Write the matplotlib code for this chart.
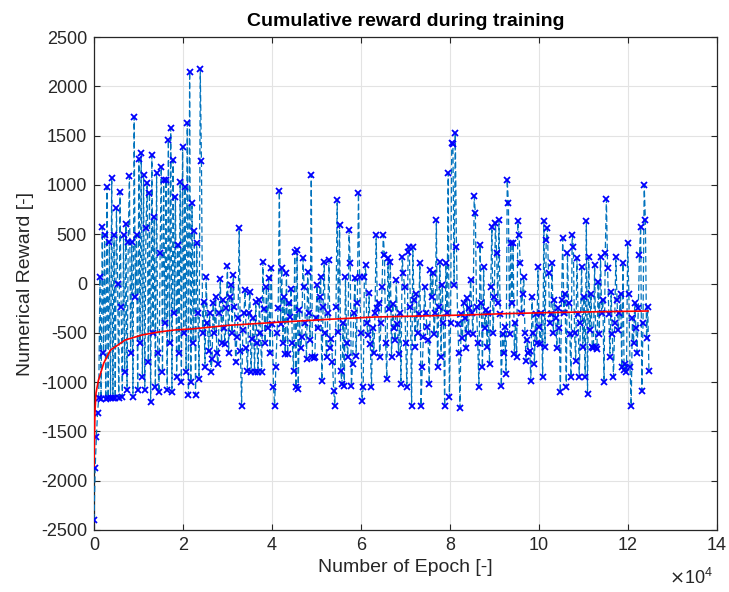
import numpy as np
import matplotlib
matplotlib.use("Agg")
import matplotlib.pyplot as plt

# ---------------- data ----------------
# rewards logged at evenly spaced epochs, listed in epoch order
rewards_a = [  # 0 .. ~2.2e4
    -2400, -1870, -1560, -1315, -1160, 66, -1170, 573, -705, 490, -1170, 980,
    -1160, 420, -1165, 1070, -1160, 490, -1160, 770, 0, -1160, 930, -240,
    -1150, 490, -900, 600, -1080, 420, 1090, -700, 420, -1150, 1690, -140,
    490, -1080, 1260, -600, 1320, -950, 1100, -1080, 560, 1020, -800, 920,
    -1200, 1300, -500, 670, -1050, 1120, -700, -1100, 310, 1180, -900, 1050,
    -400, 1050, -1080, 1455, -600, 1580, -1100, 1250, -300, 880, -950, 390,
    -700, 1030, -1000, 1385, -500, 980, -900, 1630, -1130, 2150, -1000]
rewards_b = [  # ~2.2e4 .. ~4.3e4
    820, -600, 530, -1130, 410, -300, -970, 2180, 1240, -500, -190, -850,
    70, -400, -680, -300, -900, -765, -200, -500, -136, -700, -816, -300,
    50, -600, -170, -450, -612, -250, 177, -700, -136, -17, -500, 85,
    -240, -800, -544, -350, 561, -680, -1240, -476, -300, -68, -650, -884,
    -300, -85, -900, -560, -350, -900, -187, -600, -900, -170, -500, -900,
    220, -255, -600, -34, -450, 51, -700, 153, -408, -1054, -1240, -850,
    -500, -250, 935, -408, 153, -600, -136, -714, 102]
rewards_c = [  # ~4.3e4 .. ~6.4e4
    -714, -200, -340, -51, -600, -884, 323, -1054, 340, -1071, -272, -650,
    -544, 255, -34, -400, -765, 119, -300, -578, 1105, -748, -760, -748,
    -350, -17, -450, -136, 68, -986, -238, 221, -500, -748, -300, 238,
    -650, -561, -799, -1088, -1241, -238, 850, -493, 595, -884, -1020, -400,
    -1037, 68, -600, -748, 544, 204, -1037, -816, -300, 51, -731, -200,
    918, 68, -500, -1190, -1054, 68, 187, -400, -527, -100, -612, -1054,
    -450, -700, -300, 493, -250, -200]
rewards_d = [  # ~6.4e4 .. ~8.4e4
    -748, -400, -34, 493, 289, -600, -969, 255, -255, 221, -748, -204,
    -450, -578, 34, -408, -714, -300, -1020, 272, 102, -34, -600, -1054,
    323, 374, -238, -1241, 374, -170, -646, -102, -500, -306, 204, -1241,
    -850, -544, -34, -300, -442, -578, -1020, 136, -136, 102, -510, -300,
    646, -850, -238, 221, -748, -17, -400, -1241, 204, -300, 1122, -1156,
    -400, 1428, 1410, -17, 1530, 374, -408, -700, -1258, -306, -550, -200,
    -350, -650, -150, -500, -250]
rewards_e = [  # ~8.4e4 .. ~10.4e4
    34, -300, -510, 884, 714, -238, -600, -1054, 391, -200, -850, 170,
    -450, -272, -646, -300, -816, -34, 578, -500, -136, 612, 306, -200,
    646, -306, -1037, -510, -700, -442, -918, 1054, 816, -510, 408, -200,
    408, -714, -400, -748, 629, 493, 204, -300, -102, 68, -500, -782,
    -578, -700, -680, -986, -136, -500, -816, -306, -600, 170, -442, -612,
    -300, -952, 629, -646, 442, 561, 102, -400, -306, 204, -500, -170,
    -350, -650, -250, -450, -1105]
rewards_f = [  # ~10.4e4 .. ~12.47e4
    -170, 459, -300, -102, -1054, 306, -200, -510, -952, 493, 374, -500,
    -782, 255, -306, -952, -400, 170, -646, -136, -952, 629, -1122, 272,
    -476, -102, -646, -650, 187, -646, -660, 17, -510, 272, -300, -170,
    -1003, 306, 857, 153, -306, -748, -85, -510, -952, -400, 272, -170,
    -476, -300, -102, -850, 204, -880, -816, -900, 408, -102, -850, -1241,
    -350, -600, -200, -450, -700, -250, 289, 578, -1088, -400, 1003, 646,
    -550, -238, -884]
rewards = rewards_a + rewards_b + rewards_c + rewards_d + rewards_e + rewards_f
last_epoch = 124700

# cumulative average reward (red curve), read at these epochs
avg_epochs = [0, 200, 450, 1000, 2200, 3700, 5500, 7000, 10800, 14500, 18200,
              22000, 30000, 42000, 52000, 63000, 73000, 83000, 93000, 103500,
              114000, 124500]
avg_reward = [-1850, -1315, -1110, -980, -806, -675, -620, -573, -522, -492,
              -471, -461, -425, -391, -365, -340, -330, -320, -305, -294,
              -286, -279]

xticks = [0, 20000, 40000, 60000, 80000, 100000, 120000, 140000]
xtick_labels = ["0", "2", "4", "6", "8", "10", "12", "14"]
yticks = list(range(-2500, 2501, 500))

# ---------------- figure ----------------
plt.rcParams['font.family'] = ['Liberation Sans', 'DejaVu Sans']
plt.rcParams['axes.unicode_minus'] = False
fig = plt.figure(figsize=(7.29, 5.92), dpi=100)
ax = fig.add_axes([94 / 729, 1 - 530 / 592, 623 / 729, 493 / 592])

epochs = np.linspace(0, last_epoch, len(rewards))
ax.plot(epochs, rewards, linestyle=(0, (5, 2.5)), color='#0072BD', lw=0.9,
        marker='x', markersize=5, markeredgewidth=1.3,
        markeredgecolor='#0000FF', zorder=3)
ax.plot(avg_epochs, avg_reward, color='#FF0000', lw=1.2, zorder=4)

ax.set_xlim(0, 140000)
ax.set_ylim(-2500, 2500)
ax.set_xticks(xticks)
ax.set_xticklabels(xtick_labels)
ax.set_yticks(yticks)
ax.grid(True, color='#e3e3e3', lw=0.8, zorder=0)
ax.set_axisbelow(True)
for s in ax.spines.values():
    s.set_color('#262626')
    s.set_linewidth(0.9)
ax.tick_params(direction='in', top=True, right=True, length=4, width=0.8,
               colors='#262626', labelsize=13, pad=5)

ax.set_title('Cumulative reward during training', fontsize=14,
             fontweight='bold', color='black', pad=8)
ax.set_xlabel('Number of Epoch [-]', fontsize=14, color='#262626', labelpad=4)
ax.set_ylabel('Numerical Reward [-]', fontsize=14, color='#262626', labelpad=5)
ax.text(0.994, -0.097, r'$\times\mathregular{10^{4}}$', transform=ax.transAxes,
        ha='right', va='center', fontsize=13, color='#262626')

fig.savefig('out.png', dpi=100)
